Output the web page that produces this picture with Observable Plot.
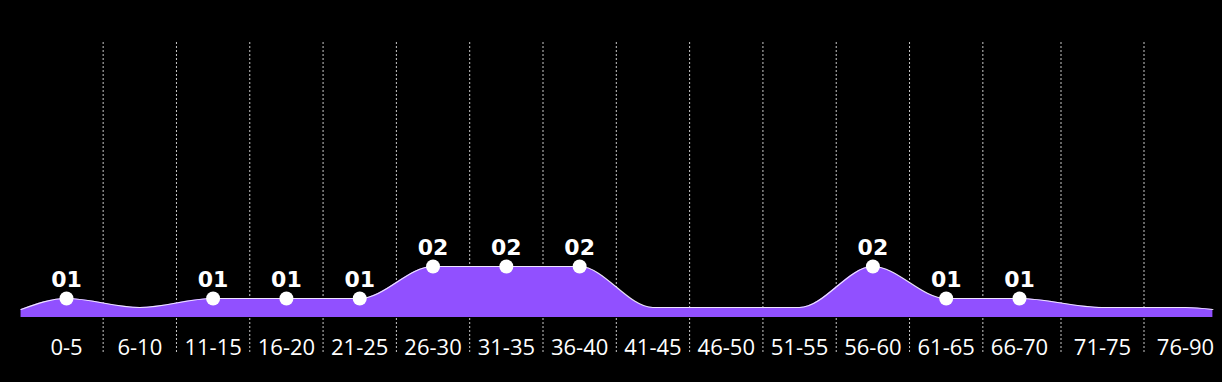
<!DOCTYPE html>
<html><head><meta charset="utf-8">
<script src="https://cdn.jsdelivr.net/npm/d3@7"></script>
<script src="https://cdn.jsdelivr.net/npm/@observablehq/plot@0.6"></script>
<style>html,body{margin:0;padding:0;background:#000;overflow:hidden;}</style>
</head><body><div id="chart"></div>
<script>
// Age groups (x categories)
const categories = ["0-5","6-10","11-15","16-20","21-25","26-30","31-35","36-40","41-45","46-50","51-55","56-60","61-65","66-70","71-75","76-90"];
// Counts per age group
const counts = [1,0,1,1,1,2,2,2,0,0,0,2,1,1,0,0];
// Level of the curve at its two open ends
const edgeLevel = -0.2;

const fmt = d3.format("02d");
const idx = d3.range(categories.length);
const pts = counts.map((v, i) => ({i, v}));
const areaPts = [{i: -0.62, v: edgeLevel}, ...pts, {i: categories.length - 1 + 0.33, v: edgeLevel}];
const labeled = pts.filter(d => d.v > 0);

const chart = Plot.plot({
  width: 1222,
  height: 382,
  marginTop: 42,
  marginBottom: 28,
  marginLeft: 0,
  marginRight: 0,
  style: {background: "#000", color: "#fff", fontFamily: "'Open Sans', sans-serif"},
  x: {type: "linear", domain: [0, 13, 15], range: [66, 1019, 1185], axis: null},
  y: {type: "linear", domain: [-1, 0, 1, 2], range: [317, 307, 298, 266], axis: null},
  marks: [
    Plot.ruleX(idx.slice(0, -1).map(i => i + 0.5), {stroke: "#c8c8c8", strokeDasharray: "2,2", strokeWidth: 1}),
    Plot.area(areaPts, {x1: "i", y1: () => -1, y2: "v", curve: "monotone-x", fill: "#9150ff"}),
    Plot.line(areaPts, {x: "i", y: "v", curve: "monotone-x", stroke: "#fff", strokeWidth: 1.2, strokeOpacity: 0.85}),
    Plot.dot(labeled, {x: "i", y: "v", r: 7, fill: "#fff"}),
    Plot.text(labeled, {x: "i", y: "v", text: d => fmt(d.v), dy: -19, fill: "#fff", fontSize: 22, fontWeight: 700, fontFamily: "'DejaVu Sans', sans-serif"}),
    Plot.axisX(idx, {tickFormat: i => categories[i], tickSize: 0, fontSize: 22, fill: "#fff", dy: -24, label: null})
  ]
});
document.getElementById("chart").appendChild(chart);
</script>
</body></html>
